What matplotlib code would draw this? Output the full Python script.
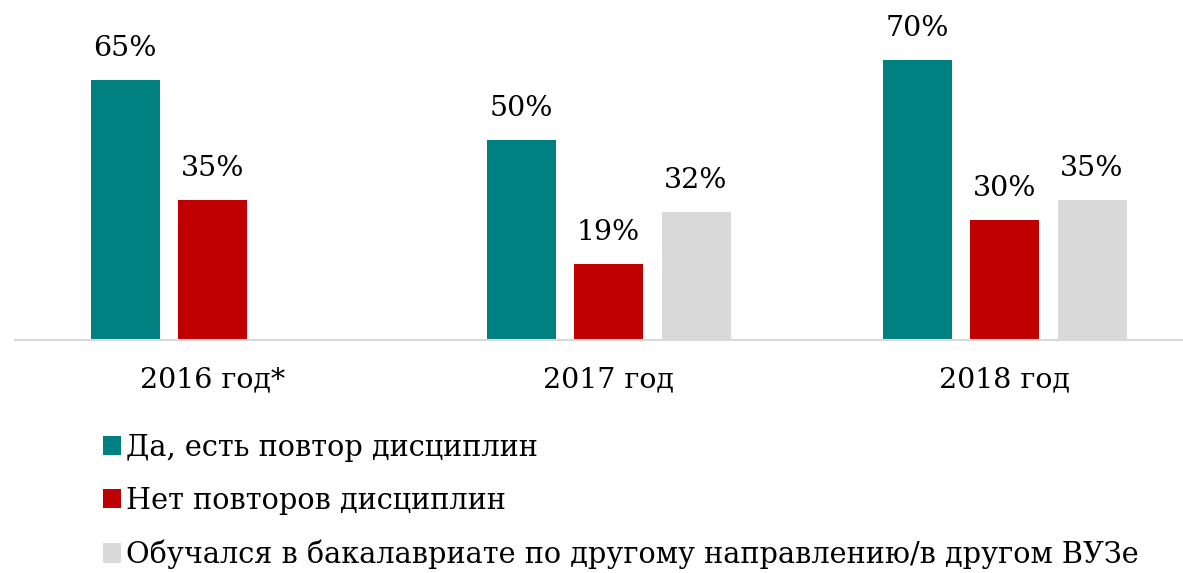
import matplotlib.pyplot as plt
import numpy as np
from matplotlib.patches import Patch

plt.rcParams['font.family'] = ['DejaVu Serif']

years = ["2016 год*", "2017 год", "2018 год"]
series_names = ["Да, есть повтор дисциплин",
                "Нет повторов дисциплин",
                "Обучался в бакалавриате по другому направлению/в другом ВУЗе"]
yes_repeat = [65, 50, 70]
no_repeat = [35, 19, 30]
other_major = [np.nan, 32, 35]
colors = ["#008080", "#C00000", "#D9D9D9"]

fig = plt.figure(figsize=(11.83, 5.73), dpi=100)
ax = fig.add_axes([15/1183, (573-340)/573, 1-15/1183, 320/573])

x = np.arange(len(years))
slot = 87.5/396
width = 69/396
for i, vals in enumerate([yes_repeat, no_repeat, other_major]):
    bars = ax.bar(x + (i-1)*slot, vals, width, color=colors[i], label=series_names[i])
    for b, v in zip(bars, vals):
        if np.isnan(v):
            continue
        ax.annotate(f"{v:.0f}%", (b.get_x() + b.get_width()/2, v),
                    xytext=(0, 13), textcoords="offset points",
                    ha="center", va="bottom", fontsize=20.5)

ax.set_xlim((15-212.5)/396, (1183-212.5)/396)
ax.set_ylim(0, 80)
ax.set_xticks(x)
ax.set_xticklabels(years, fontsize=20.5)
ax.tick_params(axis="x", length=0, pad=19)
ax.set_yticks([])
for s in ["top", "right", "left"]:
    ax.spines[s].set_visible(False)
ax.spines["bottom"].set_color("#D9D9D9")
ax.spines["bottom"].set_linewidth(1.5)

handles = [Patch(facecolor=c, label=n) for c, n in zip(colors, series_names)]
fig.legend(handles=handles, loc="upper left", bbox_to_anchor=(91/1183, 1-422/573),
           frameon=False, fontsize=20.7, handlelength=0.65, handleheight=0.65,
           handletextpad=0.15, labelspacing=0.87, borderaxespad=0)

fig.savefig("out.png", dpi=100)
